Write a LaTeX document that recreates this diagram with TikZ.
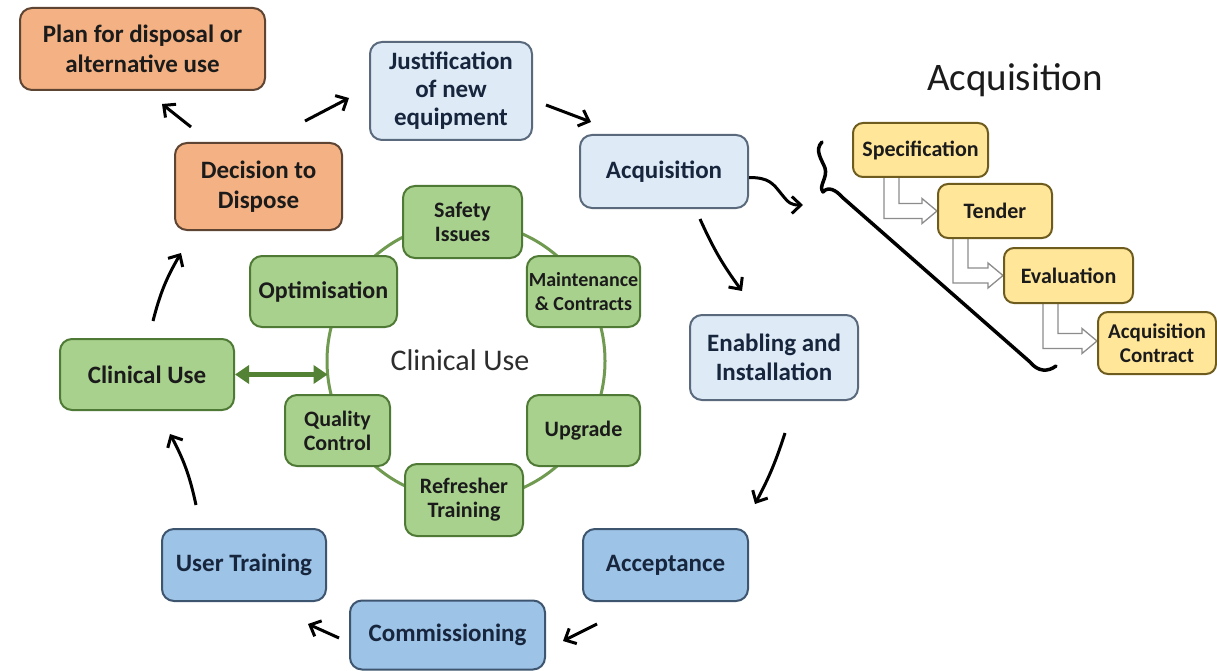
\documentclass[tikz,border=0pt]{standalone}
\usepackage{fontspec}
\setmainfont{Carlito}
\usetikzlibrary{arrows.meta,calc,backgrounds}
\definecolor{orF}{HTML}{F4B183}
\definecolor{orD}{HTML}{5E4433}
\definecolor{lbF}{HTML}{DEEBF7}
\definecolor{lbD}{HTML}{5A6A7C}
\definecolor{mbF}{HTML}{9DC3E6}
\definecolor{mbD}{HTML}{3E5570}
\definecolor{grF}{HTML}{A9D18E}
\definecolor{grD}{HTML}{4F7A36}
\definecolor{grC}{HTML}{6F9A50}
\definecolor{grA}{HTML}{548235}
\definecolor{yeF}{HTML}{FFE699}
\definecolor{yeD}{HTML}{6E5B1E}
\definecolor{txt}{HTML}{1B1B1B}
\definecolor{navy}{HTML}{17253D}
\definecolor{hgray}{HTML}{8C8C8C}
\newcommand{\hollowarr}[2]{%
 \draw[hol] let \p1=#1, \p2=#2 in
 (\x1,\y1) -- (\x1,\y2-7.5pt) -- (\x2-15pt,\y2-7.5pt) -- (\x2-15pt,\y2-12.5pt) -- (\x2,\y2)
 -- (\x2-15pt,\y2+12.5pt) -- (\x2-15pt,\y2+7.5pt) -- (\x1+15pt,\y2+7.5pt) -- (\x1+15pt,\y1);}
\tikzset{
 box/.style={rounded corners=12pt, line width=2pt, align=center, inner sep=2pt, text=txt,
   font=\bfseries\fontsize{25}{30}\selectfont},
 orbox/.style={box, fill=orF, draw=orD},
 lbbox/.style={box, fill=lbF, draw=lbD, text=navy},
 mbbox/.style={box, fill=mbF, draw=mbD, text=navy},
 grbox/.style={box, fill=grF, draw=grD},
 grsmall/.style={grbox, font=\bfseries\fontsize{22}{24}\selectfont},
 yebox/.style={box, rounded corners=10pt, fill=yeF, draw=yeD, font=\bfseries\fontsize{22}{24}\selectfont},
 arr/.style={line width=3pt, draw=black, -{Straight Barb[length=9pt,width=17pt]}},
 hol/.style={draw=hgray, fill=white, line width=1.3pt, line join=miter},
}
\begin{document}
\begin{tikzpicture}[x=1pt,y=-1pt]
\useasboundingbox (0,0) rectangle (1217,671);
% nodes
\node[orbox, minimum width=245pt, minimum height=82pt] (plan) at (142.5,49) {Plan for disposal or\\alternative use};
\node[lbbox, minimum width=162pt, minimum height=98pt, font=\bfseries\fontsize{25}{28}\selectfont] (just) at (451,91) {Justification\\of new\\equipment};
\node[orbox, minimum width=167pt, minimum height=87pt] (decide) at (258.5,186.5) {Decision to\\Dispose};
\node[lbbox, minimum width=168pt, minimum height=73pt] (acq) at (664,171.5) {Acquisition};
\node[grsmall, minimum width=119pt, minimum height=72pt] (safety) at (462.5,222) {Safety\\Issues};
\node[grbox, minimum width=147pt, minimum height=71pt, font=\bfseries\fontsize{24}{28}\selectfont] (optim) at (323.5,291.5) {Optimisation};
\node[grsmall, minimum width=113pt, minimum height=71pt, font=\bfseries\fontsize{20}{24}\selectfont] (maint) at (583.5,291.5) {Maintenance\\\&~Contracts};
\node[grbox, minimum width=174pt, minimum height=71pt] (cuse) at (147,374.5) {Clinical Use};
\node[lbbox, minimum width=168pt, minimum height=85pt, font=\bfseries\fontsize{25}{29}\selectfont] (enable) at (774,357.5) {Enabling and\\Installation};
\node[grsmall, minimum width=105pt, minimum height=71pt] (qc) at (337.5,430.5) {Quality\\Control};
\node[grsmall, minimum width=113pt, minimum height=71pt] (upgrade) at (583.5,430.5) {Upgrade};
\node[grsmall, minimum width=118pt, minimum height=72pt] (refresh) at (464,500) {Refresher\\Training};
\node[mbbox, minimum width=164pt, minimum height=72pt] (utrain) at (244,565) {User Training};
\node[mbbox, minimum width=165pt, minimum height=72pt] (accept) at (665.5,565) {Acceptance};
\node[mbbox, minimum width=195pt, minimum height=69pt] (commis) at (447.5,635) {Commissioning};
\node[yebox, minimum width=135pt, minimum height=54pt] (spec) at (920.5,150) {Specification};
\node[yebox, minimum width=114pt, minimum height=54pt] (tender) at (995,211) {Tender};
\node[yebox, minimum width=129pt, minimum height=55pt] (eval) at (1068.5,275.5) {Evaluation};
\node[yebox, minimum width=118pt, minimum height=62pt, font=\bfseries\fontsize{21}{24}\selectfont] (acon) at (1157,343) {Acquisition\\Contract};
\node[font=\fontsize{39}{44}\selectfont, text=txt] (acqtitle) at (1015,80) {Acquisition};
\node[font=\fontsize{30}{34}\selectfont, text=txt!92] (cutitle) at (460,360) {Clinical Use};
\coordinate (cc) at (466,361);
\coordinate (cl) at (327.6,374.5);
\coordinate (bracetip) at (823,192);
% background
\begin{scope}[on background layer]
\fill[white] (0,0) rectangle (1217,671);
\draw[grC, line width=3pt] (cc) circle[radius=139pt];
\hollowarr{($(spec.south west)+(32,0)$)}{(tender.west)}
\hollowarr{($(tender.south west)+(16,0)$)}{(eval.west)}
\hollowarr{($(eval.south west)+(40,0)$)}{($(acon.west)+(0,-2)$)}
\end{scope}
% double arrow
\draw[grA, line width=4.5pt, {Triangle[length=14pt,width=18pt]}-{Triangle[length=14pt,width=18pt]}] (cuse.east) -- (cl);
% cycle arrows
\draw[arr] ($(decide.north west)+(17,-15)$) -- ($(plan.south)+(19.5,13)$);
\draw[arr] ($(decide.north)+(46.5,-21)$) -- ($(just.west)+(-20,7)$);
\draw[arr] ($(just.east)+(13,14)$) -- ($(acq.north west)+(12,-12)$);
\draw[arr] ($(acq.east)+(0,6)$) .. controls +(20,0) and +(-8,-10) .. ($(acq.east)+(32,22)$) .. controls +(8,10) and +(-12,0) .. ($(bracetip)+(-20,13)$);
\draw[arr] ($(acq.south)+(36,10)$) to[bend right=6] ($(enable.north)+(-32,-23)$);
\draw[arr] ($(enable.south)+(11,32)$) to[bend left=5] ($(accept.north)+(89.5,-24)$);
\draw[arr] ($(accept.south west)+(15,22)$) -- ($(commis.east)+(17,6)$);
\draw[arr] ($(commis.west)+(-10,3)$) -- ($(utrain.south east)+(-19,22)$);
\draw[arr] ($(utrain.north)+(-48,-23)$) to[bend right=8] ($(cuse.south)+(23,23)$);
\draw[arr] ($(cuse.north)+(6,-17)$) to[bend left=8] ($(decide.south west)+(7,22)$);
% brace
\draw[line width=3.5pt, line cap=round, line join=round] (822,142) .. controls (814,150) and (822,160) .. (825,168) .. controls (828,178) and (818,186) .. (bracetip) .. controls (828,186) and (836,190) .. (842,197) -- (1030,362) .. controls (1038,372) and (1048,372) .. (1056,366);
\end{tikzpicture}
\end{document}
